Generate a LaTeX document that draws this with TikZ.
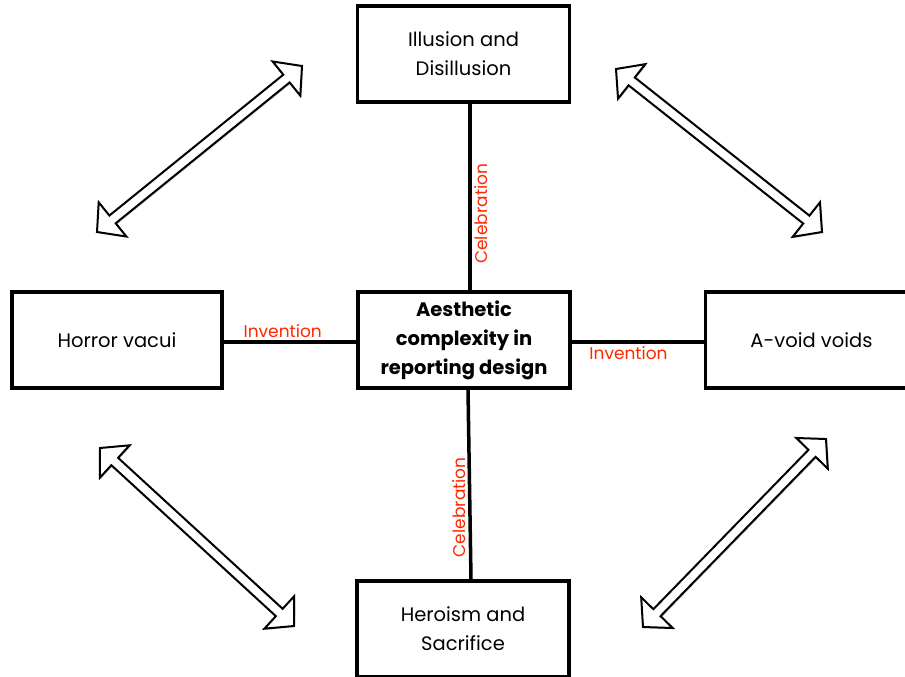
\documentclass[tikz,border=0pt]{standalone}
\usepackage{fontspec}
\setmainfont{Poppins}
\usetikzlibrary{calc,shadows}
\definecolor{lblred}{RGB}{255,38,0}
\tikzset{
  box/.style={draw=black, line width=3.5pt, fill=white, minimum width=212pt,
    minimum height=96pt, align=center, inner sep=2pt,
    font=\fontsize{19.5}{29}\selectfont},
  conn/.style={draw=black, line width=3.5pt},
  lbl/.style={text=lblred, font=\fontsize{17}{18}\selectfont, inner sep=2.5pt},
  arrowshape/.style={draw=black, line width=2pt, fill=white, line join=miter,
    drop shadow={shadow xshift=1.2pt, shadow yshift=-1.2pt, opacity=0.18, fill=black}},
  pics/dblarr/.style={code={
    \draw[arrowshape] (0,0) -- (20,22) -- (20,5) -- ({#1-20},5) -- ({#1-20},22)
      -- (#1,0) -- ({#1-20},-22) -- ({#1-20},-5) -- (20,-5) -- (20,-22) -- cycle;
  }}
}
\begin{document}
\begin{tikzpicture}[x=1pt, y=-1pt]
\useasboundingbox (0,0) rectangle (905,677);
\clip (0,0) rectangle (905,677);
% arrows
\coordinate (a1) at (97,232);  \coordinate (b1) at (302,66);
\coordinate (a2) at (616,69);  \coordinate (b2) at (822,232);
\coordinate (a3) at (100,448); \coordinate (b3) at (294,626);
\coordinate (a4) at (643,627); \coordinate (b4) at (826,439);
\foreach \s/\e in {a1/b1, a2/b2, a3/b3, a4/b4}{
  \path let \p1=($(\e)-(\s)$), \n1={veclen(\x1,\y1)}, \n2={atan2(\y1,\x1)} in
    (\s) pic[rotate=\n2]{dblarr=\n1};
}
% boxes
\node[box] (ill) at (463.5,54) {Illusion and\\Disillusion};
\node[box, font=\fontsize{19.5}{29}\selectfont\bfseries] (aes) at (464,340)
  {Aesthetic\\complexity in\\reporting design};
\node[box, minimum width=210pt] (hor) at (117,340) {Horror vacui};
\node[box] (avo) at (811.5,340) {A-void voids};
\node[box] (her) at (463,629) {Heroism and\\Sacrifice};
% connectors
\draw[conn] ([xshift=6.5pt]ill.south) -- ([xshift=6pt]aes.north)
  node[lbl, pos=0.59, rotate=90, anchor=north] {Celebration};
\draw[conn] ([xshift=4pt]aes.south) -- ([xshift=8pt]her.north)
  node[lbl, pos=0.62, rotate=90, anchor=south] {Celebration};
\draw[conn] ([yshift=-2pt]hor.east) -- ([yshift=-2pt]aes.west)
  node[lbl, pos=0.445, anchor=south] {Invention};
\draw[conn] ([yshift=-2pt]aes.east) -- ([yshift=-2pt]avo.west)
  node[lbl, pos=0.43, anchor=north] {Invention};
\end{tikzpicture}
\end{document}
